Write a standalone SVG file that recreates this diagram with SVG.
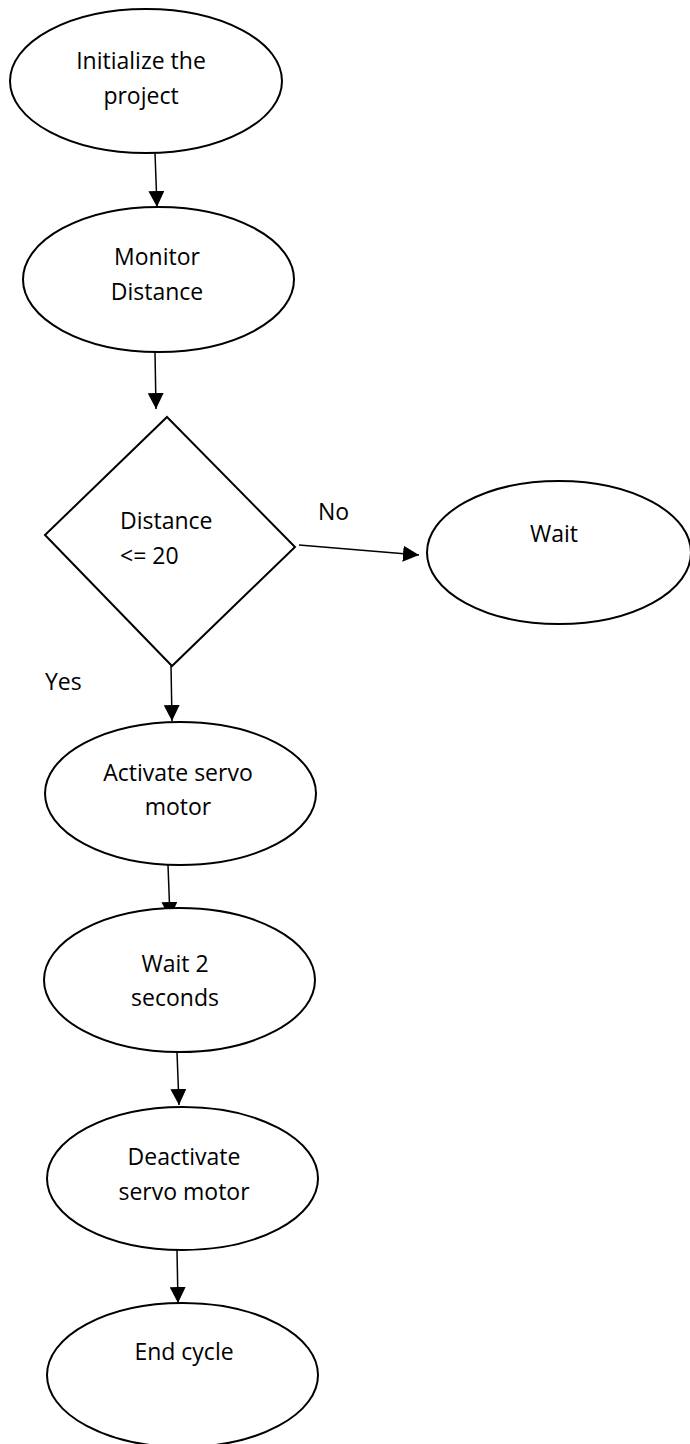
<svg xmlns="http://www.w3.org/2000/svg" width="690" height="1444" viewBox="0 0 690 1444">
<style>
.node{fill:#fff;stroke:#000;stroke-width:2}
.lbl{font-family:"Open Sans","Liberation Sans",sans-serif;font-size:23px;fill:#000}
.c{text-anchor:middle}
.edge{stroke:#000;stroke-width:1.5;fill:none}
</style>
<defs>
<marker id="ah" viewBox="0 0 16 16" refX="16" refY="8" markerWidth="16" markerHeight="16" markerUnits="userSpaceOnUse" orient="auto">
<path d="M0,0 L16,8 L0,16 z" fill="#000"/>
</marker>
</defs>
<rect width="690" height="1444" fill="#fff"/>
<g id="connectors">
<line class="edge" x1="155" y1="153" x2="157" y2="207" marker-end="url(#ah)"/>
<line class="edge" x1="155" y1="352" x2="156" y2="409" marker-end="url(#ah)"/>
<line class="edge" x1="299" y1="545" x2="419" y2="555" marker-end="url(#ah)"/>
<line class="edge" x1="171" y1="666" x2="172" y2="721" marker-end="url(#ah)"/>
<line class="edge" x1="168" y1="865" x2="170" y2="918" marker-end="url(#ah)"/>
<line class="edge" x1="177" y1="1052" x2="179" y2="1105" marker-end="url(#ah)"/>
<line class="edge" x1="177" y1="1250" x2="178" y2="1303" marker-end="url(#ah)"/>
<text class="lbl" x="318" y="520">No</text>
<text class="lbl" x="45" y="690">Yes</text>
</g>
<g id="init">
<ellipse class="node" cx="146" cy="81" rx="136" ry="72"/>
<text class="lbl c" x="141" y="69">Initialize the</text>
<text class="lbl c" x="141" y="104">project</text>
</g>
<g id="monitor">
<ellipse class="node" cx="158.5" cy="279.5" rx="135.5" ry="72.5"/>
<text class="lbl c" x="157" y="265">Monitor</text>
<text class="lbl c" x="157" y="300">Distance</text>
</g>
<g id="decision">
<polygon class="node" points="167,417 295,547 172,666 45,535"/>
<text class="lbl" x="120" y="529">Distance</text>
<text class="lbl" x="120" y="564">&lt;= 20</text>
</g>
<g id="wait">
<ellipse class="node" cx="559" cy="552.5" rx="132" ry="71.5"/>
<text class="lbl c" x="554" y="542">Wait</text>
</g>
<g id="activate">
<ellipse class="node" cx="180.5" cy="793.5" rx="135.5" ry="71.5"/>
<text class="lbl c" x="178" y="781">Activate servo</text>
<text class="lbl c" x="178" y="815">motor</text>
</g>
<g id="wait2">
<ellipse class="node" cx="179.5" cy="980" rx="135.5" ry="72"/>
<text class="lbl c" x="175" y="972">Wait 2</text>
<text class="lbl c" x="175" y="1006">seconds</text>
</g>
<g id="deactivate">
<ellipse class="node" cx="182.5" cy="1178.5" rx="135.5" ry="71.5"/>
<text class="lbl c" x="184" y="1165">Deactivate</text>
<text class="lbl c" x="184" y="1200">servo motor</text>
</g>
<g id="end">
<ellipse class="node" cx="182.5" cy="1375" rx="135.5" ry="72"/>
<text class="lbl c" x="184" y="1360">End cycle</text>
</g>
</svg>
